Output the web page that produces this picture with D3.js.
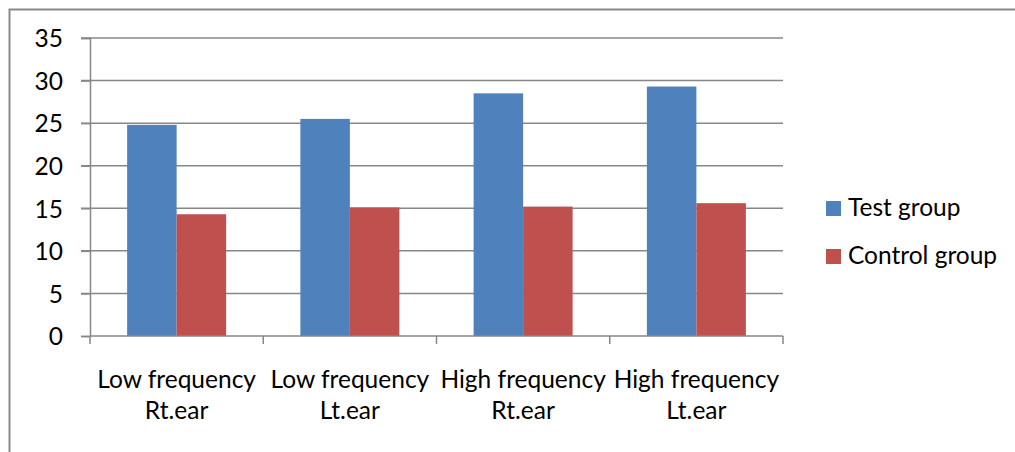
<!DOCTYPE html>
<html><head><meta charset="utf-8">
<script src="https://cdn.jsdelivr.net/npm/d3@7"></script>
<style>
html,body{margin:0;padding:0;background:#fff;overflow:hidden;}
svg text{font-family:Lato, "Open Sans", sans-serif;fill:#000;}
</style></head>
<body>
<svg id="chart" width="1015" height="452"></svg>
<script>
const categories = [["Low frequency","Rt.ear"],["Low frequency","Lt.ear"],["High frequency","Rt.ear"],["High frequency","Lt.ear"]];
const seriesNames = ["Test group","Control group"];
const testValues = [24.8, 25.5, 28.5, 29.3];
const controlValues = [14.3, 15.1, 15.2, 15.6];
const yTicks = [0,5,10,15,20,25,30,35];
const colors = ["#4F81BD","#C0504D"];

const svg = d3.select("#chart");
const m = {left:90, right:783, top:38, bottom:336};
const fs = 24.5;

// outer frame (right and bottom edges fall outside the view)
svg.append("rect").attr("x",9.5).attr("y",9.5).attr("width",1100).attr("height",500)
  .attr("fill","none").attr("stroke","#898989").attr("stroke-width",2);

const y = d3.scaleLinear().domain([0,35]).range([m.bottom,m.top]);
const x0 = d3.scaleBand().domain(d3.range(categories.length)).range([m.left,m.right]).paddingInner(0).paddingOuter(0);
const bw = x0.bandwidth()/3.5;

// gridlines
svg.append("g").selectAll("line").data(yTicks.filter(d=>d>0)).join("line")
  .attr("x1",81).attr("x2",m.right).attr("y1",d=>y(d)).attr("y2",d=>y(d))
  .attr("stroke","#878787").attr("stroke-width",1.5);

// y axis
const yAxis = svg.append("g").attr("transform",`translate(${m.left},0)`)
  .call(d3.axisLeft(y).tickValues(yTicks).tickSize(9).tickPadding(18).tickFormat(d3.format("d")));
yAxis.select(".domain").attr("stroke","#878787").attr("stroke-width",1.5);
yAxis.selectAll(".tick line").attr("stroke","#878787").attr("stroke-width",1.5);
yAxis.selectAll(".tick text").attr("font-size",fs).attr("font-family","Lato, sans-serif").attr("dy","0.36em");

// bars
const data = [testValues, controlValues];
data.forEach((vals,si)=>{
  svg.append("g").selectAll("rect").data(vals).join("rect")
    .attr("x",(d,i)=>x0(i)+bw*0.75+si*bw)
    .attr("width",bw)
    .attr("y",d=>y(d))
    .attr("height",d=>y(0)-y(d))
    .attr("fill",colors[si]);
});

// x axis
const xAxis = svg.append("g").attr("transform",`translate(0,${m.bottom})`);
xAxis.append("line").attr("x1",m.left).attr("x2",m.right).attr("y1",0).attr("y2",0)
  .attr("stroke","#878787").attr("stroke-width",1.5);
const bounds = d3.range(categories.length+1).map(i=> i<categories.length ? x0(i) : x0(i-1)+x0.bandwidth());
xAxis.selectAll(".tk").data(bounds).join("line").attr("class","tk")
  .attr("x1",d=>d).attr("x2",d=>d).attr("y1",0).attr("y2",8)
  .attr("stroke","#878787").attr("stroke-width",1.5);
const lab = xAxis.selectAll(".lab").data(categories).join("text").attr("class","lab")
  .attr("text-anchor","middle").attr("font-size",fs)
  .attr("transform",(d,i)=>`translate(${x0(i)+x0.bandwidth()/2},0)`);
lab.each(function(d){
  const t = d3.select(this);
  d.forEach((s,j)=>t.append("tspan").attr("x",0).attr("y",52+j*31).text(s));
});

// legend
const leg = svg.append("g");
seriesNames.forEach((n,i)=>{
  const yy = 201 + i*48;
  leg.append("rect").attr("x",826).attr("y",yy).attr("width",15).attr("height",15).attr("fill",colors[i]);
  leg.append("text").attr("x",848).attr("y",yy+15).attr("font-size",fs).text(n);
});
</script>
</body></html>
